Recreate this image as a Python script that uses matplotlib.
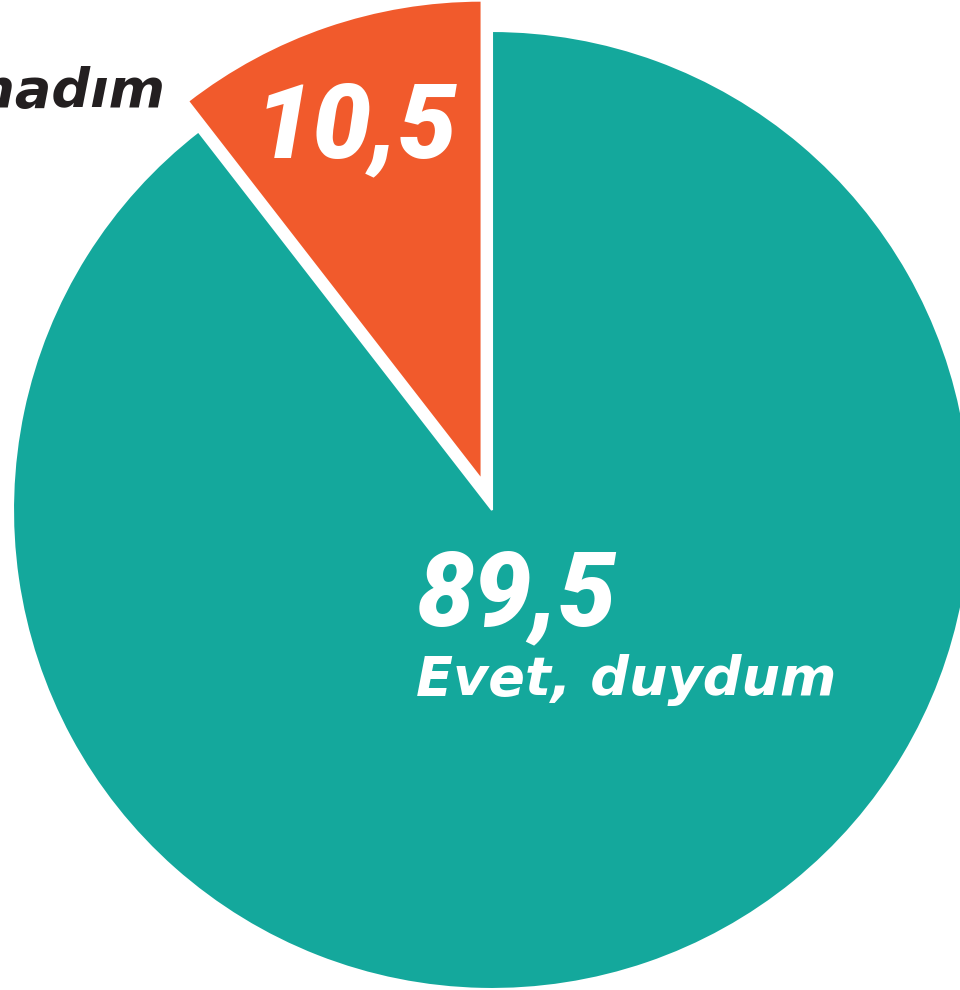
import matplotlib

matplotlib.use("Agg")
import matplotlib.pyplot as plt

# survey answers (percent)
labels = ["Hayır, duymadım", "Evet, duydum"]
values = [10.5, 89.5]
value_labels = ["10,5", "89,5"]
colors = ["#F15A2C", "#14A89C"]

W, H = 960, 990
CX, CY, R = 492, 510, 479  # pie centre / radius in pixels


def px(x, y):
    # figure pixel -> data coords (pie radius = 1)
    return (x - CX) / R, (CY - y) / R


fig = plt.figure(figsize=(W / 100, H / 100), dpi=100)
ax = fig.add_axes([0, 0, 1, 1])
ax.pie(
    values,
    colors=colors,
    startangle=90,
    counterclock=True,
    explode=[0.067, 0],
    radius=1,
    wedgeprops={"edgecolor": "white", "linewidth": 1.5},
)
x0, y1 = px(0, 0)
x1, y0 = px(W, H)
ax.set_xlim(x0, x1)
ax.set_ylim(y0, y1)
ax.set_aspect("equal")
ax.axis("off")

num_font = dict(family=["Roboto", "DejaVu Sans"], weight="black", style="italic")
lab_font = dict(family=["DejaVu Sans"], weight="bold", style="italic")

ax.text(*px(356, 157), value_labels[0], color="white", fontsize=75,
        ha="center", va="baseline", **num_font)
ax.text(*px(165, 107), labels[0], color="#231F20", fontsize=39,
        ha="right", va="baseline", **lab_font)
ax.text(*px(416, 625), value_labels[1], color="white", fontsize=74,
        ha="left", va="baseline", **num_font)
ax.text(*px(416, 695), labels[1], color="white", fontsize=39,
        ha="left", va="baseline", **lab_font)

fig.savefig("out.png", dpi=100)
plt.close(fig)
